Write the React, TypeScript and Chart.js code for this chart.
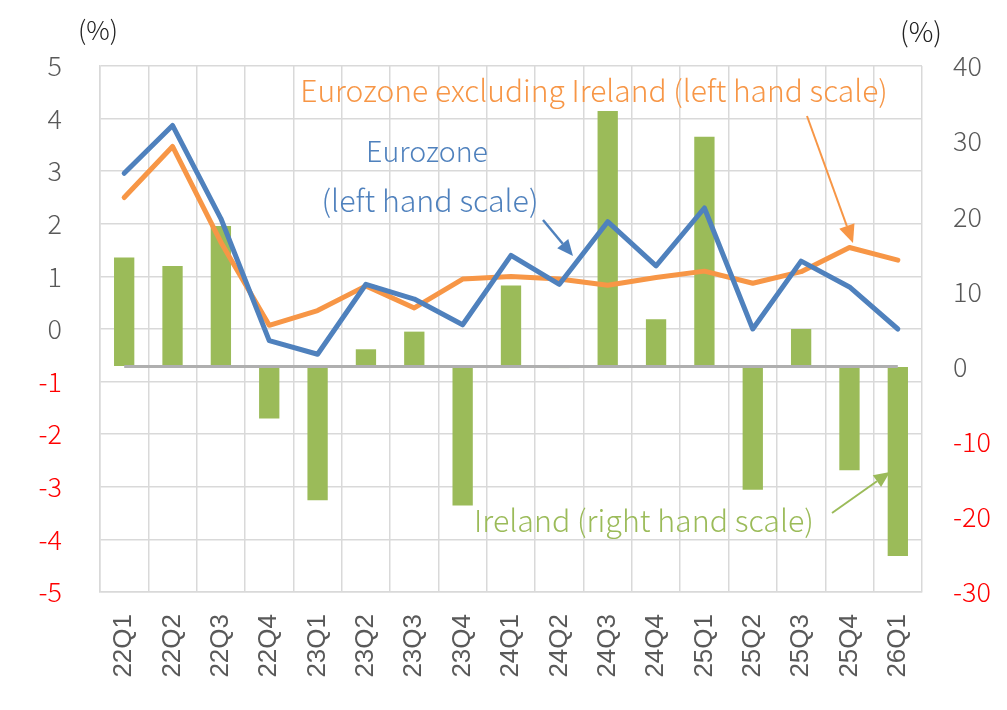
import React, { useEffect, useRef } from 'react';
import { Chart, registerables } from 'chart.js';

Chart.register(...registerables);

const categories = ['22Q1', '22Q2', '22Q3', '22Q4', '23Q1', '23Q2', '23Q3', '23Q4', '24Q1', '24Q2', '24Q3', '24Q4', '25Q1', '25Q2', '25Q3', '25Q4', '26Q1'];
const eurozone = [2.96, 3.87, 2.1, -0.22, -0.48, 0.85, 0.57, 0.08, 1.4, 0.85, 2.04, 1.2, 2.3, 0.0, 1.29, 0.8, 0.0];
const eurozoneExIreland = [2.5, 3.47, 1.65, 0.07, 0.35, 0.82, 0.4, 0.95, 1.0, 0.95, 0.83, 0.98, 1.1, 0.87, 1.09, 1.55, 1.31];
const ireland = [14.5, 13.4, 18.7, -6.9, -17.8, 2.3, 4.65, -18.5, 10.8, -0.2, 34.0, 6.3, 30.6, -16.4, 5.0, -13.8, -25.2];

const leftMin = -5;
const leftMax = 5;
const rightMin = -30;
const rightMax = 40;

const BLUE = '#4F81BD';
const ORANGE = '#F79646';
const GREEN = '#9BBB59';
const GRID = '#d9d9d9';
const TICK = '#595959';
const RED = '#FF0000';
const JP = '"Noto Sans CJK JP", "Noto Sans", sans-serif';

function fitText(ctx: CanvasRenderingContext2D, text: string, cx: number, cy: number, width: number, color: string) {
  ctx.font = `300 40px ${JP}`;
  const m = ctx.measureText(text).width;
  const size = (40 * width) / m;
  ctx.font = `300 ${size}px ${JP}`;
  ctx.textAlign = 'center';
  ctx.textBaseline = 'middle';
  ctx.fillStyle = color;
  ctx.fillText(text, cx, cy);
}

function arrow(ctx: CanvasRenderingContext2D, x1: number, y1: number, x2: number, y2: number, color: string, head = 14, w = 2) {
  const a = Math.atan2(y2 - y1, x2 - x1);
  const bx = x2 - head * Math.cos(a);
  const by = y2 - head * Math.sin(a);
  ctx.strokeStyle = color;
  ctx.fillStyle = color;
  ctx.lineWidth = w;
  ctx.beginPath();
  ctx.moveTo(x1, y1);
  ctx.lineTo(bx, by);
  ctx.stroke();
  const hw = head * 0.45;
  ctx.beginPath();
  ctx.moveTo(x2, y2);
  ctx.lineTo(bx + hw * Math.sin(a), by - hw * Math.cos(a));
  ctx.lineTo(bx - hw * Math.sin(a), by + hw * Math.cos(a));
  ctx.closePath();
  ctx.fill();
}

const overlay = {
  id: 'overlay',
  afterDatasetsDraw(chart: any) {
    const ctx: CanvasRenderingContext2D = chart.ctx;
    const xs = chart.scales.x;
    const yR = chart.scales.yR;
    ctx.save();
    // secondary zero line
    const y0 = yR.getPixelForValue(0);
    ctx.strokeStyle = '#AFAFAF';
    ctx.lineWidth = 3;
    ctx.beginPath();
    ctx.moveTo(xs.getPixelForValue(0), y0);
    ctx.lineTo(xs.getPixelForValue(categories.length - 1), y0);
    ctx.stroke();

    // annotations
    fitText(ctx, 'Eurozone excluding Ireland (left hand scale)', 594, 91, 588, ORANGE);
    fitText(ctx, 'Eurozone', 427, 151, 122, BLUE);
    fitText(ctx, '(left hand scale)', 430, 200, 217, BLUE);
    fitText(ctx, 'Ireland (right hand scale)', 644, 520, 340, GREEN);
    fitText(ctx, '(%)', 98, 30, 40, '#222222');
    fitText(ctx, '(%)', 921, 32, 42, '#222222');

    arrow(ctx, 543, 220, 573, 256, BLUE, 16, 2.5);
    arrow(ctx, 807, 116, 853, 243, ORANGE, 18, 2);
    arrow(ctx, 832, 513, 890, 472, GREEN, 16, 2);
    ctx.restore();
  },
};

export default function App() {
  const ref = useRef<HTMLCanvasElement | null>(null);
  useEffect(() => {
    if (!ref.current) return;
    const chart = new Chart(ref.current, {
      type: 'bar',
      data: {
        labels: categories,
        datasets: [
          {
            type: 'line',
            label: 'Eurozone',
            data: eurozone,
            yAxisID: 'yL',
            borderColor: BLUE,
            backgroundColor: BLUE,
            borderWidth: 5,
            pointRadius: 0,
            tension: 0,
            borderJoinStyle: 'round',
            borderCapStyle: 'round',
            order: 0,
          } as any,
          {
            type: 'line',
            label: 'Eurozone excluding Ireland',
            data: eurozoneExIreland,
            yAxisID: 'yL',
            borderColor: ORANGE,
            backgroundColor: ORANGE,
            borderWidth: 5,
            pointRadius: 0,
            tension: 0,
            borderJoinStyle: 'round',
            borderCapStyle: 'round',
            order: 0,
          } as any,
          {
            type: 'bar',
            label: 'Ireland',
            data: ireland,
            yAxisID: 'yR',
            backgroundColor: GREEN,
            borderWidth: 0,
            barPercentage: 0.42,
            categoryPercentage: 1,
            order: 1,
          } as any,
        ],
      },
      options: {
        animation: false,
        responsive: false,
        devicePixelRatio: 1,
        layout: { padding: { top: 66, left: 0, right: 0, bottom: 0 } },
        plugins: { legend: { display: false }, tooltip: { enabled: false } },
        scales: {
          x: {
            grid: { color: GRID, lineWidth: 1.5, drawTicks: false, offset: true },
            border: { color: GRID, width: 1.5 },
            ticks: {
              color: TICK,
              font: { family: '"Liberation Sans", Arial, sans-serif', size: 26 },
              minRotation: 90,
              maxRotation: 90,
              padding: 22,
              autoSkip: false,
            },
            afterFit: (s: any) => {
              s.height = 118;
            },
          },
          yL: {
            position: 'left',
            min: leftMin,
            max: leftMax,
            grid: { color: GRID, lineWidth: 1.5, drawTicks: false },
            border: { color: GRID, width: 1.5 },
            ticks: {
              stepSize: 1,
              padding: 38,
              color: (c: any) => (c.tick && c.tick.value < 0 ? RED : TICK),
              font: { family: JP, size: 27, weight: '300' },
            },
            afterFit: (s: any) => {
              s.width = 100;
            },
          },
          yR: {
            position: 'right',
            min: rightMin,
            max: rightMax,
            grid: { drawOnChartArea: false, drawTicks: false },
            border: { display: false },
            ticks: {
              stepSize: 10,
              padding: 31,
              color: (c: any) => (c.tick && c.tick.value < 0 ? RED : TICK),
              font: { family: JP, size: 27, weight: '300' },
            },
            afterFit: (s: any) => {
              s.width = 85;
            },
          },
        },
      } as any,
      plugins: [overlay],
    });
    return () => chart.destroy();
  }, []);
  return (
    <div style={{ position: 'fixed', left: 0, top: 0, width: 1007, height: 710, background: '#fff' }}>
      <canvas ref={ref} width={1007} height={710} style={{ display: 'block' }} />
    </div>
  );
}
